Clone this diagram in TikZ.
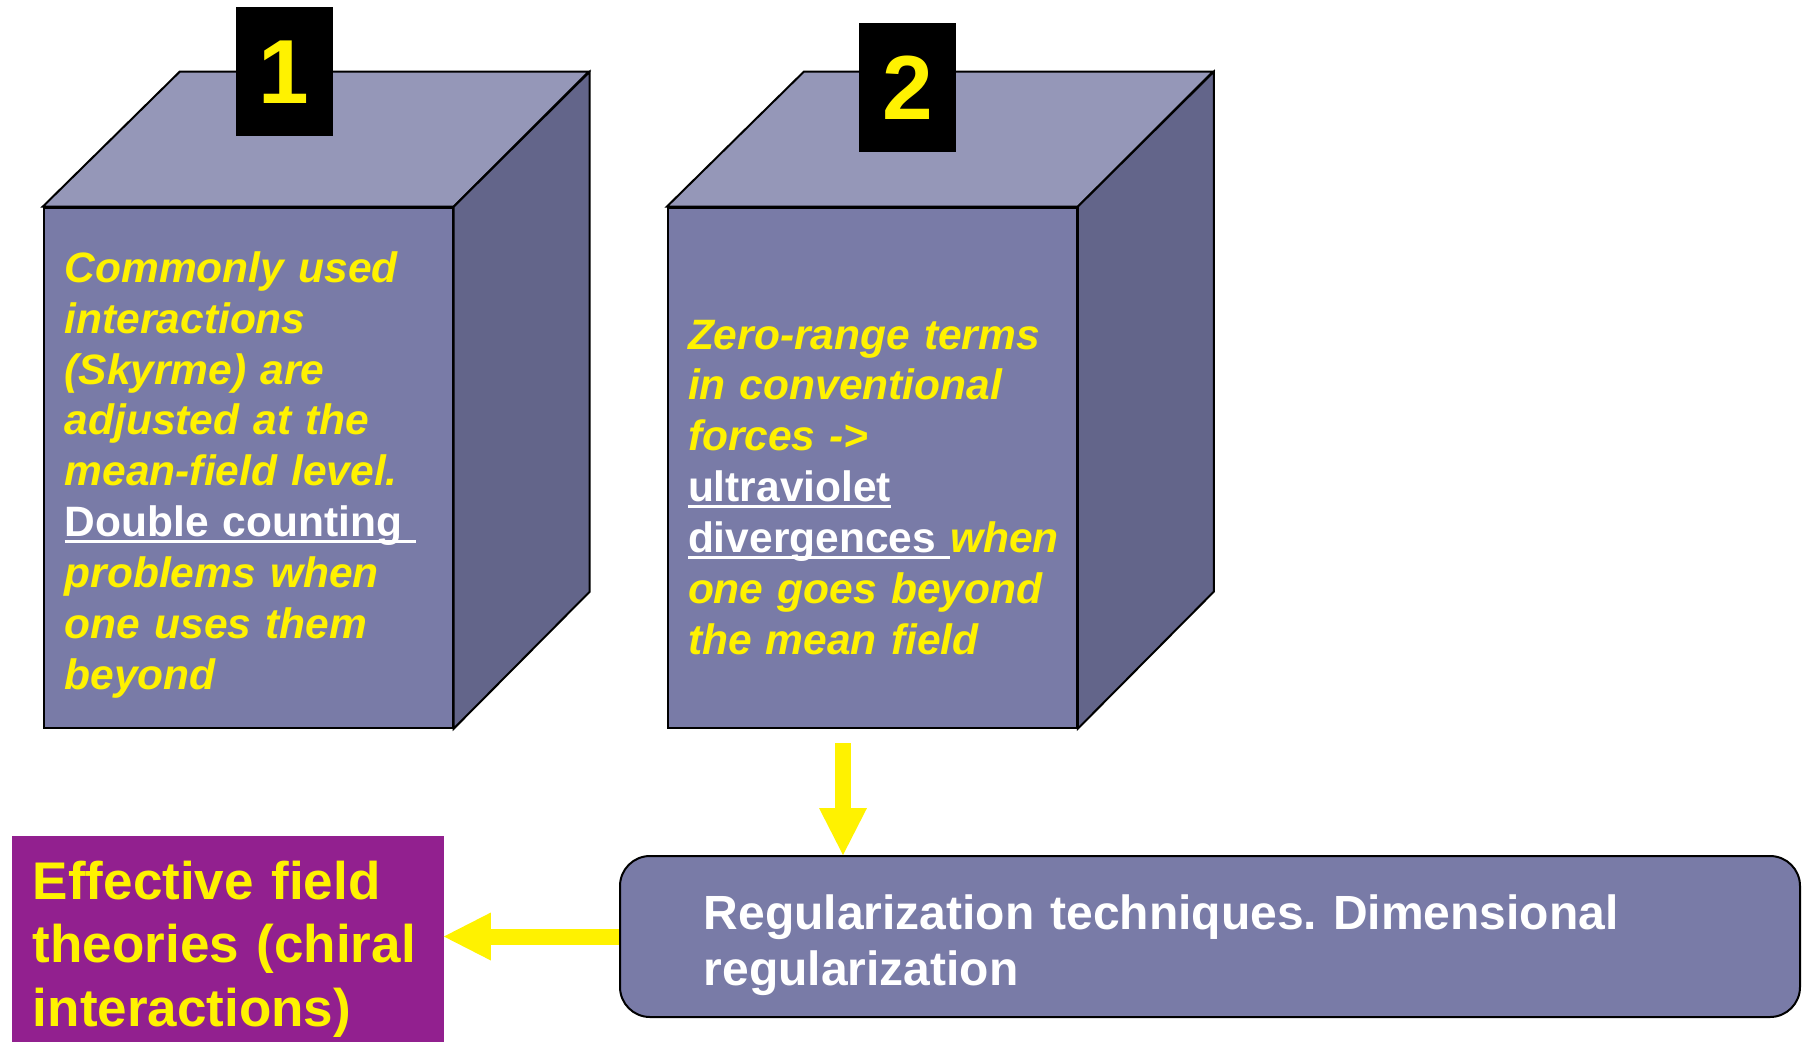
\documentclass[tikz,border=0pt]{standalone}
\usepackage{fontspec}
\setmainfont{Liberation Sans}
\usetikzlibrary{positioning,arrows.meta}
\definecolor{frontc}{RGB}{121,123,167}
\definecolor{topc}{RGB}{149,151,184}
\definecolor{sidec}{RGB}{99,101,138}
\definecolor{eftc}{RGB}{146,32,143}
\frenchspacing
% white, upright, underlined words inside the yellow text
\newsavebox\ulbox
\newcommand\ulwhite[1]{\leavevmode\sbox\ulbox{\color{white}\upshape #1}\rlap{\color{white}\rule[-5.9pt]{\wd\ulbox}{2.4pt}}\usebox\ulbox}

\begin{document}
\begin{tikzpicture}[x=1pt,y=-1pt,
   front/.style={draw=black,line width=2pt,fill=frontc,inner sep=0,anchor=north west,minimum width=409pt,minimum height=520pt},
   numbox/.style={fill=black,text=yellow,font=\bfseries\fontsize{91}{91}\selectfont,inner sep=0,anchor=north west,minimum width=97pt,minimum height=129pt},
   cubetext/.style={text=yellow,font=\bfseries\itshape\fontsize{42.5}{50.9}\selectfont,anchor=base west,inner sep=0,text width=370pt,align=left},
   bigarrow/.style={yellow,line width=16pt,-{Triangle[width=48pt,length=47pt,line width=0pt]}}]
   \useasboundingbox (0,0) rectangle (1802,1042);
   % the two cubes
   \node[front] (cubeA) at (42.7,206.7) {};
   \node[front] (cubeB) at (666.8,206.7) {};
   \foreach \c in {cubeA,cubeB}{
      \draw[line width=2pt,fill=topc] (\c.north west) -- ++(137,-135) -- ++(409,0) -- (\c.north east) -- cycle;
      \draw[line width=2pt,fill=sidec] (\c.north east) -- ++(136,-135) -- ++(0,520) -- (\c.south east) -- cycle;
   }
   \node[numbox] (numA) at (235.3,7.1) {1};
   \node[numbox] (numB) at (858.9,22.7) {2};
   \node[cubetext] (textA) at (64.5,282.2) {Commonly used\\interactions\\(Skyrme) are\\adjusted at the\\mean-field level.\\\ulwhite{Double counting }\\problems when\\one uses them\\beyond};
   \node[cubetext] (textB) at (687.8,349) {Zero-range terms\\in conventional\\forces ->\\\ulwhite{ultraviolet}\\\ulwhite{divergences }when\\one goes beyond\\the mean field};
   % bottom row
   \node[draw=black,line width=2pt,fill=frontc,rounded corners=30pt,inner sep=0,anchor=north west,minimum width=1180pt,minimum height=161pt] (regbox) at (619,855) {};
   \node[text=white,font=\bfseries\fontsize{48}{55.7}\selectfont,anchor=base west,inner sep=0,text width=1050pt,align=left] (regtext) at (703.5,929.3) {Regularization techniques. Dimensional\\regularization};
   \node[fill=eftc,inner sep=0,anchor=north west,minimum width=432pt,minimum height=206pt] (eftbox) at (11.5,836) {};
   \node[text=yellow,font=\bfseries\fontsize{53}{63.5}\selectfont,anchor=base west,inner sep=0,text width=410pt,align=left] (efttext) at (32.7,899.3) {Effective field\\theories (chiral\\interactions)};
   \coordinate (arrowtop) at (843,743);
   \draw[bigarrow] (arrowtop) -- (arrowtop |- regbox.north);
   \draw[bigarrow] (regbox.west) -- (regbox.west -| eftbox.east);
\end{tikzpicture}
\end{document}
